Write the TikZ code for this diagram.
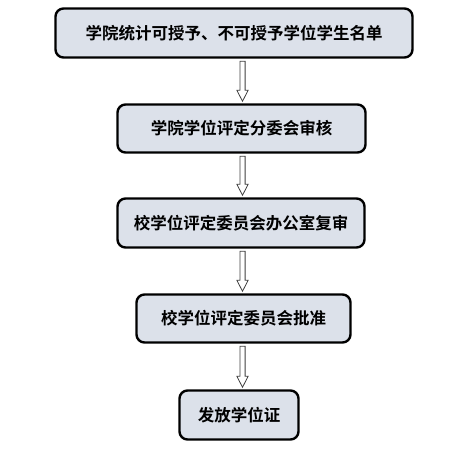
\documentclass[tikz,border=0pt]{standalone}
\usepackage{fontspec}
\newfontfamily\cjk{Noto Sans CJK SC}[BoldFont={Noto Sans CJK SC Bold}]
\usetikzlibrary{calc}
\definecolor{boxfill}{RGB}{220,225,234}
\tikzset{
  x=1pt, y=-1pt,
  stepbox/.style={draw=black, line width=2.4pt, rounded corners=8pt, fill=boxfill,
    inner sep=0pt, font=\cjk\bfseries\fontsize{16.5}{18}\selectfont},
  hollow/.style={draw=black!75, line width=0.8pt, fill=white}
}
\newcommand\harrow[2]{%
  \draw[hollow] ($(#1.south -| ax)+(-2.6,2.5)$) -- ($(#1.south -| ax)+(2.6,2.5)$)
    -- ($(#2.north -| ax)+(2.6,-13)$) -- ($(#2.north -| ax)+(5.6,-13)$)
    -- ($(#2.north -| ax)+(0,-2)$) -- ($(#2.north -| ax)+(-5.6,-13)$)
    -- ($(#2.north -| ax)+(-2.6,-13)$) -- cycle;}
\begin{document}
\begin{tikzpicture}
\useasboundingbox (0,0) rectangle (474,464);
\coordinate (ax) at (242.5,0);
\node[stepbox, minimum width=357pt, minimum height=49pt] (b1) at (234,33) {学院统计可授予、不可授予学位学生名单};
\node[stepbox, minimum width=248pt, minimum height=48pt] (b2) at (241.5,128.5) {学院学位评定分委会审核};
\node[stepbox, minimum width=247pt, minimum height=49pt] (b3) at (241,223) {校学位评定委员会办公室复审};
\node[stepbox, minimum width=214pt, minimum height=48pt] (b4) at (243.5,318.5) {校学位评定委员会批准};
\node[stepbox, minimum width=119pt, minimum height=49pt] (b5) at (239,415) {发放学位证};
\harrow{b1}{b2}
\harrow{b2}{b3}
\harrow{b3}{b4}
\harrow{b4}{b5}
\end{tikzpicture}
\end{document}
